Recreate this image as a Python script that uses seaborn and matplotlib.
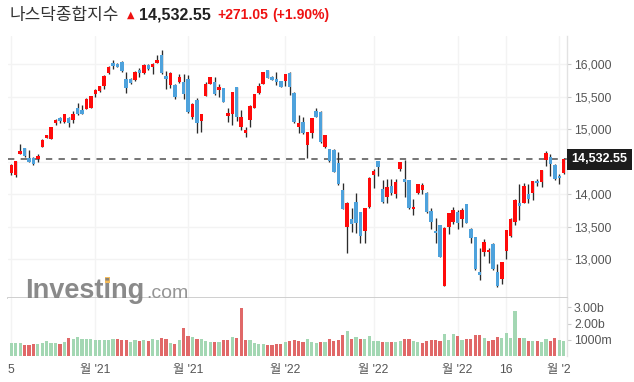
import numpy as np
import pandas as pd
import matplotlib.pyplot as plt
import matplotlib.transforms as mtransforms
from matplotlib.patches import Rectangle
import seaborn as sns

sns.set_theme(style='white')
plt.rcParams['font.family'] = ['Liberation Sans', 'Noto Sans CJK KR', 'DejaVu Sans']

# daily candles, Oct 5 2021 .. Apr 4 2022
opens = [14318, 14292, 14620, 14707, 14559, 14554, 14543, 14728, 14866, 14846,
         15087, 15169, 15113, 15174, 15138, 15328, 15297, 15308, 15328, 15543,
         15584, 15666, 15856, 16020, 16000, 16036, 15769, 15764, 15754, 15908,
         15856, 15984, 15954, 16020, 16138, 15815, 15677, 15677, 15728, 15728,
         15769, 15179, 15446, 15128, 15513, 15697, 15723, 15600, 15636, 15205,
         15236, 15646, 15036, 14943, 15144, 15323, 15554, 15697, 15908, 15805,
         15769, 15743, 15743, 15861, 15549, 15036, 15103, 14754, 14933, 15282,
         15262, 14718, 14687, 14677, 14472, 14062, 13487, 13610, 13877, 13723,
         13436, 13795, 14287, 14508, 14072, 13959, 14123, 13995, 14380, 14226,
         14210, 13764, 14010, 14062, 14021, 13738, 13431, 13523, 12590, 13498,
         13574, 13718, 13610, 13846, 13462, 13333, 12800, 13113, 13103, 13231,
         12800, 12687, 13128, 13354, 13574, 13867, 13867, 14000, 14010, 14200,
         14190, 14523, 14564, 14446, 14277, 14318]
highs = [14460, 14515, 14764, 14715, 14677, 14564, 14610, 14841, 14913, 15030,
         15159, 15179, 15236, 15190, 15277, 15405, 15364, 15472, 15515, 15615,
         15661, 15831, 15969, 16061, 16020, 16051, 15872, 15779, 15887, 15933,
         15995, 16005, 16010, 16133, 16215, 15897, 15877, 15692, 15846, 15846,
         15831, 15395, 15472, 15236, 15718, 15805, 15795, 15692, 15636, 15318,
         15569, 15646, 15292, 15026, 15364, 15538, 15702, 15877, 15908, 15810,
         15877, 15743, 15851, 15872, 15574, 15215, 15179, 14959, 15169, 15318,
         15272, 14908, 14687, 14700, 14651, 14174, 13872, 13779, 14021, 13723,
         13779, 14256, 14379, 14508, 14215, 14226, 14226, 14226, 14487, 14523,
         14215, 13918, 14154, 14164, 14036, 13779, 13626, 13523, 13487, 13713,
         13805, 13754, 13779, 13846, 13472, 13333, 13164, 13308, 13174, 13241,
         12923, 12959, 13446, 13626, 13918, 14154, 14164, 14154, 14200, 14226,
         14369, 14667, 14615, 14462, 14303, 14549]
lows = [14300, 14266, 14610, 14570, 14487, 14446, 14492, 14718, 14856, 14840,
        15056, 15097, 15097, 15026, 15087, 15210, 15231, 15302, 15320, 15487,
        15574, 15620, 15846, 15918, 15948, 15877, 15548, 15697, 15738, 15800,
        15841, 15908, 15851, 16015, 15846, 15610, 15631, 15466, 15702, 15456,
        15241, 15154, 14943, 14948, 15508, 15692, 15523, 15487, 15415, 15102,
        15067, 15128, 14984, 14871, 15026, 15318, 15533, 15697, 15790, 15749,
        15682, 15641, 15661, 15530, 15087, 14933, 14918, 14549, 14856, 15179,
        14790, 14703, 14497, 14344, 14138, 13774, 13097, 13420, 13395, 13241,
        13241, 13779, 14087, 14277, 13856, 13856, 13985, 13944, 14354, 13959,
        13764, 13677, 13995, 14000, 13713, 13467, 13251, 13036, 12590, 13380,
        13533, 13462, 13497, 13549, 13241, 12831, 12677, 13046, 12944, 12831,
        12564, 12615, 12995, 13333, 13523, 13600, 13856, 13856, 13908, 14123,
        14113, 14431, 14277, 14215, 14149, 14308]
closes = [14446, 14507, 14661, 14584, 14498, 14461, 14584, 14831, 14907, 15025,
          15138, 15128, 15231, 15097, 15231, 15231, 15236, 15456, 15507, 15600,
          15656, 15815, 15948, 15969, 15959, 15892, 15636, 15713, 15872, 15856,
          15979, 15928, 16000, 16061, 15861, 15774, 15861, 15497, 15805, 15538,
          15261, 15384, 15097, 15231, 15697, 15800, 15533, 15646, 15420, 15246,
          15569, 15189, 15179, 14990, 15354, 15538, 15656, 15877, 15790, 15754,
          15723, 15651, 15846, 15640, 15110, 15087, 14944, 14959, 15169, 15190,
          14805, 14908, 14513, 14344, 14154, 13774, 13856, 13538, 13549, 13359,
          13779, 14241, 14359, 14421, 13877, 14103, 14021, 14190, 14487, 14190,
          13790, 13800, 14154, 14138, 13728, 13569, 13395, 13036, 13472, 13703,
          13754, 13549, 13754, 13559, 13328, 12841, 12759, 13257, 13144, 12846,
          12590, 12959, 13446, 13615, 13908, 13821, 14123, 13928, 14200, 14164,
          14369, 14626, 14462, 14226, 14241, 14533]
# volume in billions
volumes = [0.78, 0.78, 0.78, 0.66, 0.66, 0.72, 0.72, 0.78, 0.91, 0.78,
           0.78, 0.72, 0.84, 1.11, 1.05, 1.17, 1.05, 1.05, 1.05, 0.97,
           0.97, 0.97, 0.97, 1.05, 1.05, 0.97, 0.97, 0.84, 0.97, 0.91,
           0.97, 0.91, 1.05, 0.97, 1.11, 1.05, 0.78, 0.72, 0.97, 1.71,
           1.23, 1.17, 1.05, 1.05, 0.91, 0.84, 0.84, 0.84, 0.97, 0.97,
           1.17, 1.11, 2.94, 0.97, 0.97, 0.78, 0.72, 0.72, 0.66, 0.66,
           0.72, 0.72, 0.84, 0.91, 0.97, 0.91, 0.84, 1.03, 0.84, 0.78,
           0.84, 0.84, 1.03, 0.91, 0.97, 1.28, 1.54, 1.03, 1.15, 1.03,
           1.03, 1.21, 0.95, 0.95, 0.84, 0.84, 0.84, 0.84, 0.91, 1.03,
           1.03, 0.91, 0.84, 0.78, 0.91, 0.97, 0.97, 0.91, 1.34, 0.97,
           1.34, 1.21, 0.97, 1.03, 1.03, 1.28, 1.28, 1.09, 0.91, 0.97,
           1.15, 1.09, 1.40, 1.09, 2.78, 1.09, 1.09, 0.91, 0.91, 0.91,
           0.84, 1.03, 0.91, 1.09, 0.97, 0.91]

last_price = 14532.55
change_text = '+271.05'
change_pct_text = '(+1.90%)'
title = '나스닥종합지수'

price_ticks = [13000, 13500, 14000, 14500, 15000, 15500, 16000]
price_labels = ['13,000', '13,500', '14,000', '', '15,000', '15,500', '16,000']
vol_ticks = [1, 2, 3]
vol_labels = ['1000m', '2.00b', '3.00b']
date_ticks = [0, 19, 40, 62, 82, 101, 112, 124]
date_labels = ['5', "월 '21", "월 '21", "월 '22", "월 '22", "월 '22", '16', "월 '2"]

UP = '#ff0a0a'
DOWN = '#4ea2dc'
VOL_UP = '#a3d7b3'
VOL_DOWN = '#e06868'
GRID = '#f3f3f3'
TXT = '#555555'

df = pd.DataFrame({'o': opens, 'h': highs, 'l': lows, 'c': closes, 'v': volumes})
df['idx'] = np.arange(len(df))
prev = np.r_[df['o'].iloc[0], df['c'].values[:-1]]
df['dir'] = np.where(df['c'] >= prev, 'up', 'down')

W, H = 634, 382
fig = plt.figure(figsize=(W / 100, H / 100), dpi=100)
fig.patch.set_facecolor('white')

left, right = 8, 567
ax_p = fig.add_axes([left / W, 1 - 298 / H, (right - left) / W, (298 - 36) / H])
ax_v = fig.add_axes([left / W, 1 - 356 / H, (right - left) / W, (356 - 298) / H])

# candles
up = df['c'] >= df['o']
body_lo = np.minimum(df['o'], df['c'])
body_h = np.maximum(np.abs(df['c'] - df['o']), 8)
ax_p.vlines(df['idx'], df['l'], df['h'], color='#2b2b2b', lw=0.95, zorder=3)
ax_p.bar(df['idx'], body_h, bottom=body_lo, width=0.78,
         color=np.where(up, UP, DOWN), linewidth=0, zorder=4)
ax_p.axhline(last_price, color='#6a6a6a', lw=1.3, ls=(0, (3.5, 3.5)), zorder=2)

# volume
sns.barplot(data=df, x='idx', y='v', hue='dir', palette={'up': VOL_UP, 'down': VOL_DOWN},
            native_scale=True, dodge=False, width=0.72, saturation=1, errorbar=None,
            legend=False, linewidth=0, ax=ax_v, zorder=3)

for ax in (ax_p, ax_v):
    ax.set_xlim(-0.75, 125.75)
    ax.set_xlabel('')
    ax.set_ylabel('')
    ax.set_facecolor('white')
    ax.yaxis.tick_right()
    for s in ('top', 'left'):
        ax.spines[s].set_visible(False)
    ax.spines['right'].set_color('#e2e2e2')
    ax.spines['right'].set_linewidth(1)
    ax.set_xticks(date_ticks)
    ax.grid(True, axis='x', color=GRID, lw=1, zorder=0)
    ax.tick_params(axis='y', length=3, width=0.8, color='#cccccc', pad=2,
                   labelsize=8.8, labelcolor=TXT)

ax_p.set_ylim(12400, 16431)
ax_p.set_yticks(price_ticks, price_labels)
ax_p.grid(True, axis='y', color=GRID, lw=1, zorder=0)
ax_p.spines['bottom'].set_color('#cccccc')
ax_p.spines['bottom'].set_linewidth(1.3)
ax_p.tick_params(axis='x', length=0, labelbottom=False)

ax_v.set_ylim(0, 3.58)
ax_v.set_yticks(vol_ticks, vol_labels)
ax_v.spines['bottom'].set_visible(False)
ax_v.set_xticks(date_ticks, date_labels)
ax_v.tick_params(axis='x', length=0, pad=6, labelsize=8.8, labelcolor=TXT)

# last price tag
trans = mtransforms.blended_transform_factory(ax_p.transAxes, ax_p.transData)
ax_p.text(1.008, last_price, f'{last_price:,.2f}', transform=trans, ha='left', va='center',
          color='white', fontsize=9, fontweight='bold', clip_on=False, zorder=10,
          bbox=dict(boxstyle='square,pad=0.35', facecolor='#1c1c1c', edgecolor='none'))

# header
fig.text(10 / W, 1 - 15 / H, title, fontsize=12.2, color='#333333', va='center',
         family=['Noto Sans CJK KR', 'DejaVu Sans'])
fig.text(127 / W, 1 - 15 / H, '▲', fontsize=7, color='#ee1111', va='center',
         family=['DejaVu Sans'])
fig.text(139 / W, 1 - 15 / H, f'{last_price:,.2f}', fontsize=11.5, fontweight='bold',
         color='#222222', va='center')
fig.text(217 / W, 1 - 15 / H, change_text, fontsize=10, fontweight='bold',
         color='#ee1111', va='center')
fig.text(272 / W, 1 - 15 / H, change_pct_text, fontsize=10, fontweight='bold',
         color='#ee1111', va='center')

# watermark
fig.text(25 / W, 1 - 291 / H, 'Investing', fontsize=19.5, fontweight='bold',
         color='#7d7d7d', va='center', alpha=0.9)
fig.text(146 / W, 1 - 293 / H, '.com', fontsize=14, color='#8a8a8a', va='center', alpha=0.9)
fig.patches.append(Rectangle((105 / W, 1 - 283 / H), 5 / W, 6 / H, transform=fig.transFigure,
                             facecolor='#f6b548', edgecolor='none', alpha=0.9))

fig.savefig('out.png', dpi=100, facecolor='white')
